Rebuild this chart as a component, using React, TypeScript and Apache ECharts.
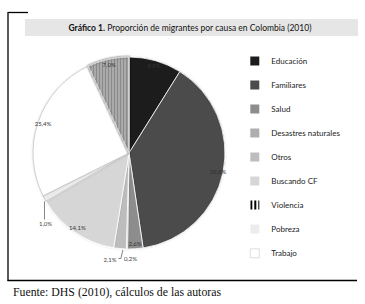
import React, { useEffect, useRef } from "react";
import * as echarts from "echarts";

const categories = ["Educación", "Familiares", "Salud", "Desastres naturales", "Otros", "Buscando CF", "Pobreza", "Trabajo", "Violencia"];
const values = [8.9, 38.8, 2.6, 0.2, 2.1, 14.1, 1.0, 25.4, 7.0];
const legendOrder = ["Educación", "Familiares", "Salud", "Desastres naturales", "Otros", "Buscando CF", "Violencia", "Pobreza", "Trabajo"];
const titleBold = "Gráfico 1.";
const titleRest = " Proporción de migrantes por causa en Colombia (2010)";
const sourceText = "Fuente: DHS (2010), cálculos de las autoras";

const sliceColors = ["#1c1c1c", "#4b4b4b", "#8d8d8d", "#aeaeae", "#bdbdbd", "#d6d6d6", "#ececec", "#ffffff", "#ffffff"];
const insideLabel = [true, true, true, false, false, true, false, true, true];

const fmt = (v: number) => v.toFixed(1).replace(".", ",") + "%";
const FONT = "Lato";

export default function App() {
  const ref = useRef<HTMLDivElement>(null);
  useEffect(() => {
    if (!ref.current) return;
    const chart = echarts.init(ref.current, undefined, { renderer: "svg" });
    const mainData = categories.map((name, i) => {
      const isStripe = name === "Violencia";
      const item: any = {
        name,
        value: values[i],
        itemStyle: {
          color: sliceColors[i],
          borderColor: name === "Trabajo" || name === "Pobreza" ? "#c4c4c4" : "#ffffff",
          borderWidth: 0.8,
        },
        label: insideLabel[i]
          ? { show: false }
          : {
              show: true,
              position: "outside",
              formatter: () => fmt(values[i]),
              fontSize: 6,
              color: "#444",
              fontFamily: FONT,
            },
        labelLine: insideLabel[i]
          ? { show: false }
          : { show: true, length: 6, length2: 3, lineStyle: { color: "#666", width: 0.8 } },
      };
      if (isStripe) {
        item.itemStyle.decal = {
          symbol: "rect",
          symbolSize: 1,
          dashArrayX: [1, 1.6],
          dashArrayY: [10, 0],
          color: "#8a8a8a",
          rotation: 0,
        };
        item.itemStyle.borderColor = "#ddd";
      }
      return item;
    });
    const overlayData = categories.map((name, i) => ({
      name,
      value: values[i],
      itemStyle: { color: "rgba(0,0,0,0)" },
      label: { show: insideLabel[i] },
    }));

    const legendData = legendOrder.map((name) =>
      name === "Trabajo"
        ? { name, itemStyle: { borderColor: "#c8c8c8", borderWidth: 0.6 } }
        : name === "Violencia"
        ? { name, itemStyle: { borderWidth: 0, decal: { symbol: "rect", symbolSize: 1, dashArrayX: [1.2, 1.2], dashArrayY: [10, 0], color: "#000" } } }
        : { name, itemStyle: { borderWidth: 0 } }
    );

    chart.setOption({
      animation: false,
      legend: {
        orient: "vertical",
        left: 245,
        top: 51.5,
        itemWidth: 9,
        itemHeight: 9,
        itemGap: 15,
        icon: "rect",
        data: legendData,
        selectedMode: false,
        textStyle: { fontFamily: FONT, fontSize: 8, color: "#222", padding: [0, 0, 0, 7] },
      },
      graphic: [
        { type: "rect", shape: { x: 25, y: 19, width: 333, height: 17 }, style: { fill: "#e6e6e6" }, silent: true },
        {
          type: "text",
          x: 190,
          y: 27.5,
          style: {
            text: "{b|" + titleBold + "}" + titleRest,
            rich: { b: { fontWeight: "bold", fontFamily: FONT, fontSize: 8.5, fill: "#111" } },
            font: "8.5px " + FONT,
            fill: "#111",
            align: "center",
            verticalAlign: "middle",
          },
          silent: true,
        },
        { type: "line", shape: { x1: 8, y1: 12.5, x2: 28, y2: 12.5 }, style: { stroke: "#000", lineWidth: 1.3 } },
        { type: "line", shape: { x1: 8, y1: 12, x2: 8, y2: 281 }, style: { stroke: "#000", lineWidth: 1.3 } },
        { type: "line", shape: { x1: 7.5, y1: 280.5, x2: 357, y2: 280.5 }, style: { stroke: "#000", lineWidth: 1.3 } },
        {
          type: "text",
          x: 13,
          y: 292,
          style: { text: sourceText, font: "11.8px 'Liberation Serif'", fill: "#111", verticalAlign: "middle" },
          silent: true,
        },
      ],
      series: [
        {
          type: "pie",
          name: "main",
          center: [129, 153],
          radius: [0, 96],
          startAngle: 90,
          clockwise: true,
          avoidLabelOverlap: false,
          itemStyle: { shadowBlur: 2, shadowColor: "rgba(0,0,0,0.15)" },
          labelLayout: (p: any) => {
            const pts = p.labelLinePoints;
            if (!pts) return {};
            const e = pts[0];
            const name = categories[p.dataIndex];
            if (name === "Pobreza") {
              return {
                x: e[0] + 1,
                y: e[1] + 25,
                align: "center",
                verticalAlign: "middle",
                labelLinePoints: [[e[0], e[1] + 3], [e[0], e[1] + 21], [e[0], e[1] + 21]],
              };
            }
            if (name === "Otros") {
              return {
                x: e[0] - 10,
                y: e[1] + 10.5,
                align: "center",
                verticalAlign: "middle",
                labelLinePoints: [[e[0], e[1]], [e[0], e[1]], [e[0], e[1]]],
              };
            }
            if (name === "Desastres naturales") {
              return {
                x: e[0] - 3,
                y: e[1] + 10,
                align: "left",
                verticalAlign: "middle",
                labelLinePoints: [[e[0] - 4, e[1] + 1], [e[0] - 6, e[1] + 9.5], [e[0] - 8.5, e[1] + 9.5]],
              };
            }
            return {};
          },
          data: mainData,
        },
        {
          type: "pie",
          name: "labels",
          center: [129, 153],
          radius: [80, 96],
          startAngle: 90,
          clockwise: true,
          silent: true,
          avoidLabelOverlap: false,
          label: {
            position: "inside",
            fontSize: 6,
            color: "#333",
            fontFamily: FONT,
            formatter: (p: any) => fmt(p.value),
          },
          labelLine: { show: false },
          data: overlayData,
        },
      ],
    });
    return () => chart.dispose();
  }, []);
  return <div ref={ref} style={{ position: "absolute", left: 0, top: 0, width: 365, height: 304 }} />;
}
